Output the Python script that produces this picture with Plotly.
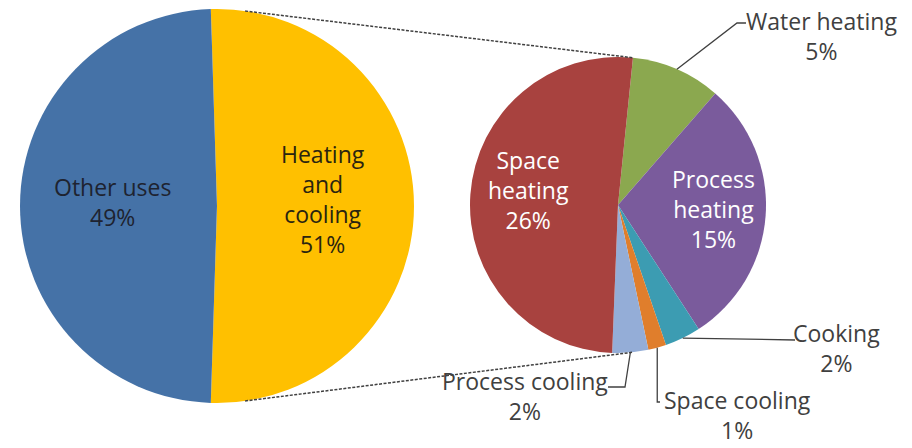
import math
import plotly.graph_objects as go

W, H = 912, 448

# Main pie
main_labels = ["Heating and cooling", "Other uses"]
main_values = [51, 49]
main_colors = ["#FFC000", "#4572A7"]

# Breakdown of "Heating and cooling"
sub_labels = ["Water heating", "Process heating", "Cooking",
              "Space cooling", "Process cooling", "Space heating"]
sub_values = [5, 15, 2, 1, 2, 26]
sub_colors = ["#8BA84F", "#7A5B9C", "#3C9CB2", "#E07E2C", "#94ADD7", "#A8423F"]

# pie geometry in pixels (center x, center y, radius)
LEFT = (217, 206, 197)
RIGHT = (618, 205, 148)
main_rotation = 90 - main_values[0] / sum(main_values) * 360 / 2
sub_rotation = 5.8


def to_paper(x, y):
    return x / W, 1 - y / H


def domain(geo):
    cx, cy, r = geo
    x0, y1 = to_paper(cx - r, cy - r)
    x1, y0 = to_paper(cx + r, cy + r)
    return dict(x=[x0, x1], y=[y0, y1])


def edge(geo, deg, scale=1.0):
    # point on the pie rim, angle clockwise from 12 o'clock
    cx, cy, r = geo
    a = math.radians(deg)
    return cx + r * scale * math.sin(a), cy - r * scale * math.cos(a)


def mid_angles(values, rotation):
    total = sum(values)
    out, start = [], rotation
    for v in values:
        span = v / total * 360
        out.append(start + span / 2)
        start += span
    return out


fig = go.Figure()
fig.add_trace(go.Pie(labels=main_labels, values=main_values, domain=domain(LEFT),
                     marker=dict(colors=main_colors, line=dict(width=0)),
                     sort=False, direction="clockwise", rotation=main_rotation,
                     textinfo="none", showlegend=False))
fig.add_trace(go.Pie(labels=sub_labels, values=sub_values, domain=domain(RIGHT),
                     marker=dict(colors=sub_colors, line=dict(width=0)),
                     sort=False, direction="clockwise", rotation=sub_rotation,
                     textinfo="none", showlegend=False))


def pct(v):
    return f"{v}%"


# labels: (text, x px, y px, color)
labels = [
    (f"Other uses<br>{pct(main_values[1])}", 112, 202, "#1E2330"),
    (f"Heating<br>and<br>cooling<br>{pct(main_values[0])}", 323, 199, "#2A2410"),
    (f"Space<br>heating<br>{pct(sub_values[5])}", 528, 190, "white"),
    (f"Process<br>heating<br>{pct(sub_values[1])}", 713, 209, "white"),
    (f"Water heating<br>{pct(sub_values[0])}", 821, 36, "#404040"),
    (f"Cooking<br>{pct(sub_values[2])}", 836, 348, "#404040"),
    (f"Space cooling<br>{pct(sub_values[3])}", 737, 415, "#404040"),
    (f"Process cooling<br>{pct(sub_values[4])}", 525, 396, "#404040"),
]
for text, x, y, color in labels:
    px_, py_ = to_paper(x, y)
    fig.add_annotation(text=text, x=px_, y=py_, xref="paper", yref="paper",
                       xanchor="center", yanchor="middle", showarrow=False,
                       font=dict(size=23, color=color))

# leader lines from slice rims to the outside labels
mids = mid_angles(sub_values, sub_rotation)
leaders = {
    0: [(737, 23), (746, 23)],
    2: [(795, 340)],
    3: [None, (660, 402)],
    4: [(625, 387), (608, 387)],
}
for idx, pts in leaders.items():
    sx, sy = edge(RIGHT, mids[idx])
    path_pts = [(sx, sy)]
    for p in pts:
        if p is None:
            p = (sx, 402)
        path_pts.append(p)
    d = ""
    for i, (x, y) in enumerate(path_pts):
        px_, py_ = to_paper(x, y)
        d += ("M" if i == 0 else " L") + f" {px_},{py_}"
    fig.add_shape(type="path", path=d, xref="paper", yref="paper",
                  line=dict(color="#404040", width=1.3))

# dotted connectors between the two pies
for a_left, a_right in [(8.2, sub_rotation), (171.8, 174)]:
    x0, y0 = to_paper(*edge(LEFT, a_left))
    x1, y1 = to_paper(*edge(RIGHT, a_right))
    fig.add_shape(type="line", x0=x0, y0=y0, x1=x1, y1=y1,
                  xref="paper", yref="paper",
                  line=dict(color="#404040", width=1.5, dash="3px,1.5px"))

fig.update_layout(width=W, height=H, margin=dict(l=0, r=0, t=0, b=0),
                  paper_bgcolor="white", plot_bgcolor="white",
                  font=dict(family="Open Sans", size=23))
fig.write_html("out.html", config={"displayModeBar": False},
               post_script="document.body.style.margin='0';")
